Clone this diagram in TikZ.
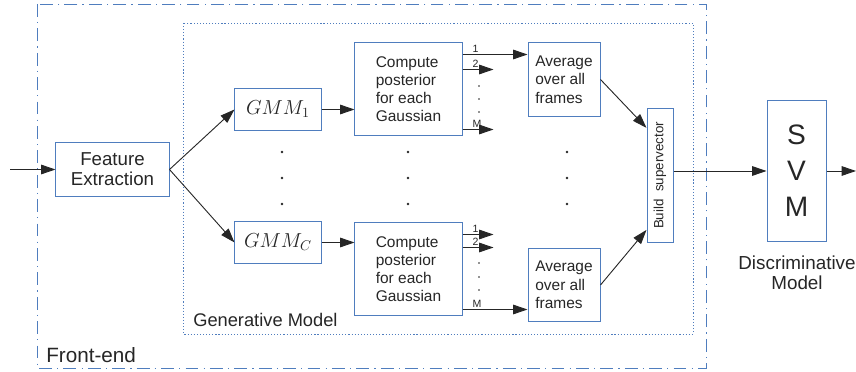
\documentclass[tikz,border=0pt]{standalone}
\usepackage[no-math]{fontspec}
\setmainfont{Liberation Sans}
\usetikzlibrary{arrows.meta}

\definecolor{boxblue}{RGB}{79,125,190}

\tikzset{
  blk/.style={draw=boxblue, line width=0.7pt, inner sep=0pt, align=center, text=black!85},
  arr/.style={draw=black!85, line width=0.65pt, -{Triangle[length=3.6mm,width=2.4mm]}},
  idx/.style={font=\fontsize{7.5}{8}\selectfont, inner sep=1.2pt, anchor=south west, text=black!85},
  txt/.style={inner sep=0pt, text=black!85},
}

\begin{document}
\begin{tikzpicture}[x=0.025cm, y=-0.025cm]
    \useasboundingbox (0,0) rectangle (856,372);

    % front-end and generative model frames
    \draw[boxblue, line width=0.7pt, dash pattern=on 3.2mm off 1.3mm on 0.3mm off 1.3mm] (37,4) rectangle (706,368);
    \draw[boxblue, line width=0.7pt, dash pattern=on 0.8pt off 1.4pt] (183,23) rectangle (693,334);
    \node[txt, anchor=base west, font=\fontsize{14.7}{17}\selectfont] (frontend) at (46,363) {Front-end};
    \node[txt, anchor=base west, font=\fontsize{13}{15}\selectfont] (genmodel) at (193,327) {Generative Model};

    % blocks
    \node[blk, minimum width=2.825cm, minimum height=1.325cm, font=\fontsize{13.3}{14.2}\selectfont] (feat) at (112.5,169.5) {Feature\\Extraction};

    \node[blk, minimum width=2.15cm, minimum height=1.025cm, font=\fontsize{14}{16}\selectfont] (gmm1) at (278,109.5) {$GMM_1$};
    \node[blk, minimum width=2.15cm, minimum height=1.025cm, font=\fontsize{14}{16}\selectfont] (gmmc) at (278,242.5) {$GMM_C$};

    \node[blk, minimum width=2.675cm, minimum height=2.3cm, align=left, font=\fontsize{11}{12.8}\selectfont] (post1) at (408.5,89) {Compute\\posterior\\for each\\Gaussian};
    \node[blk, minimum width=2.675cm, minimum height=2.3cm, align=left, font=\fontsize{11}{12.8}\selectfont] (post2) at (408.5,269) {Compute\\posterior\\for each\\Gaussian};

    \node[blk, minimum width=1.8cm, minimum height=1.825cm, align=left, font=\fontsize{11}{13}\selectfont] (avg1) at (564,79.5) {Average\\over all\\frames};
    \node[blk, minimum width=1.8cm, minimum height=1.825cm, align=left, font=\fontsize{11}{13}\selectfont] (avg2) at (564,285) {Average\\over all\\frames};

    \node[blk, minimum width=0.65cm, minimum height=3.325cm, font=\fontsize{9.5}{11}\selectfont] (build) at (660,175.5) {\rotatebox{90}{Build\ \ supervector}};

    \node[blk, minimum width=1.475cm, minimum height=3.5cm, font=\fontsize{20}{25.6}\selectfont] (svm) at (796.5,171) {S\\V\\M};
    \node[txt, align=center, font=\fontsize{13.4}{14.2}\selectfont] (disc) at (797,273) {Discriminative\\Model};

    % input / output
    \coordinate (in) at (10,169.5);
    \coordinate (out) at (856,171);
    \draw[arr] (in) -- (feat.west);
    \draw[arr] (svm.east) -- (out);

    \draw[arr] (feat.east) -- (gmm1.west);
    \draw[arr] (feat.east) -- (gmmc.west);
    \draw[arr] (gmm1.east) -- (gmm1.east -| post1.west);
    \draw[arr] (gmmc.east) -- (gmmc.east -| post2.west);

    % posterior outputs 1, 2, ..., M
    \coordinate (p1a) at ([yshift=-0.3cm]post1.north east);
    \coordinate (p1b) at ([yshift=-0.675cm]post1.north east);
    \coordinate (p1m) at ([yshift=0.15cm]post1.south east);
    \draw[arr] (p1a) -- (p1a -| avg1.west) node[idx, pos=0, xshift=0.2cm] {1};
    \draw[arr] (p1b) -- ([xshift=0.775cm]p1b) node[idx, pos=0, xshift=0.2cm] {2};
    \draw[arr] (p1m) -- ([xshift=0.775cm]p1m) node[idx, pos=0, xshift=0.2cm] {M};

    \coordinate (p2a) at ([yshift=-0.3cm]post2.north east);
    \coordinate (p2b) at ([yshift=-0.625cm]post2.north east);
    \coordinate (p2m) at ([yshift=0.15cm]post2.south east);
    \draw[arr] (p2a) -- ([xshift=0.775cm]p2a) node[idx, pos=0, xshift=0.2cm] {1};
    \draw[arr] (p2b) -- ([xshift=0.775cm]p2b) node[idx, pos=0, xshift=0.2cm] {2};
    \draw[arr] (p2m) -- (p2m -| avg2.west) node[idx, pos=0, xshift=0.2cm] {M};

    \draw[arr] (avg1.east) -- ([yshift=1.19cm]build.west);
    \draw[arr] (avg2.east) -- ([yshift=-1.36cm]build.west);
    \draw[arr] (build.east |- svm.west) -- (svm.west);

    % vertical ellipses
    \foreach \x in {282,408,567}
        \foreach \y in {152,178,204}
            \fill[black!85] (\x,\y) circle (0.9pt);
    \foreach \y in {86,99,112,263,277,290}
        \fill[black!85] (479,\y) circle (0.6pt);
\end{tikzpicture}
\end{document}
